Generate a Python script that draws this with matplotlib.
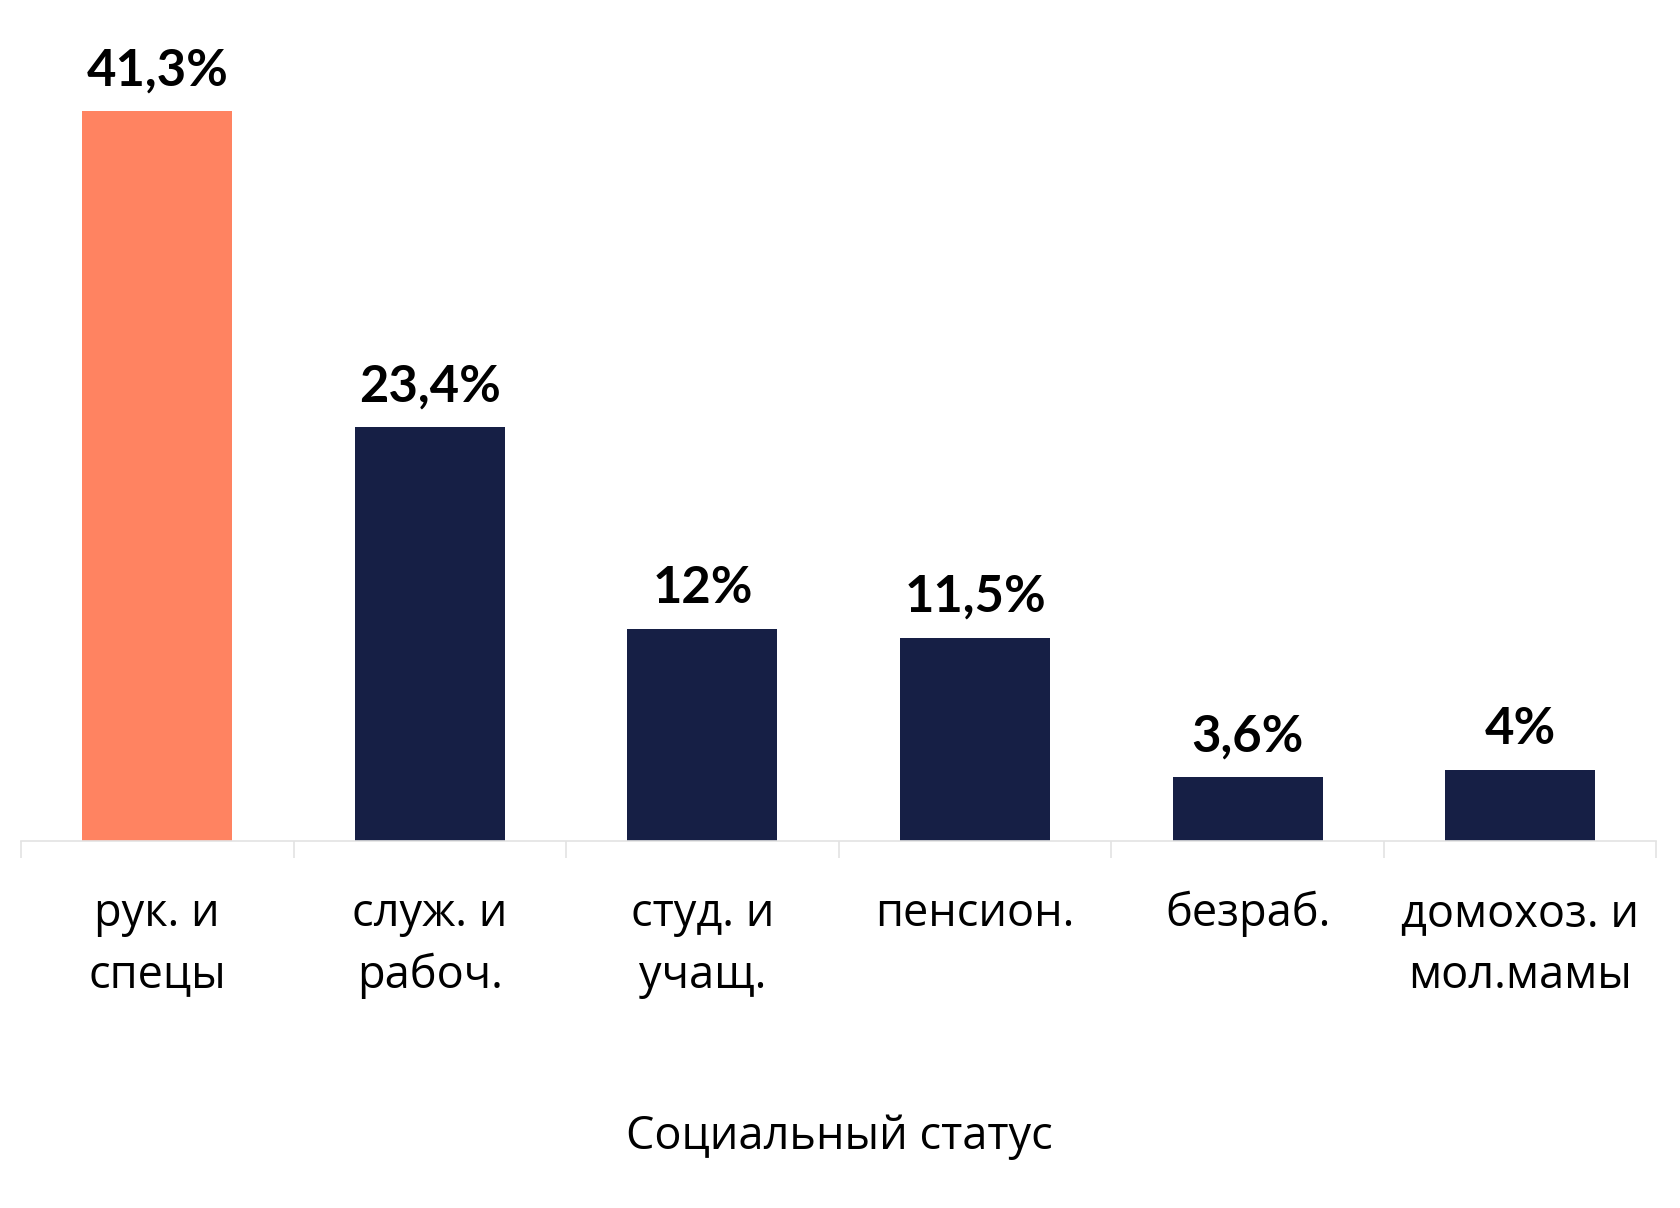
import matplotlib.pyplot as plt
import numpy as np

# Социальный статус респондентов, %
categories = ['рук. и\nспецы', 'служ. и\nрабоч.', 'студ. и\nучащ.', 'пенсион.',
              'безраб.', 'домохоз. и\nмол.мамы']
values = [41.3, 23.4, 12, 11.5, 3.6, 4]
labels = ['41,3%', '23,4%', '12%', '11,5%', '3,6%', '4%']

orange = '#FF8361'
navy = '#161F45'
colors = [orange] + [navy] * 5

fig = plt.figure(figsize=(16.8, 12.08), dpi=100)
ax = fig.add_axes([0.0125, 0.304, 0.9735, 0.696])

x = np.arange(len(categories))
ax.bar(x, values, width=0.55, color=colors)

for xi, v, t in zip(x, values, labels):
    ax.annotate(t, (xi, v), xytext=(0, 12), textcoords='offset points',
                ha='center', va='bottom', fontsize=36.5, fontweight='bold',
                family='Lato', color='black')

ax.set_xlim(-0.5, len(categories) - 0.5)
ax.set_ylim(0, 47.6)
ax.set_yticks([])
for s in ['top', 'right', 'left']:
    ax.spines[s].set_visible(False)
ax.spines['bottom'].set_color('#E3E3E3')
ax.spines['bottom'].set_linewidth(1.2)

ax.set_xticks(x)
ax.set_xticklabels(categories, fontsize=32.5, family='Open Sans', linespacing=1.45)
ax.tick_params(axis='x', which='major', length=0, pad=36)
ax.set_xticks(np.arange(len(categories) + 1) - 0.5, minor=True)
ax.tick_params(axis='x', which='minor', length=12, color='#E3E3E3', width=1.2)

fig.text(0.4995, 0.0585, 'Социальный статус', ha='center', va='center',
         fontsize=32.5, family='Open Sans')

plt.savefig('out.png', dpi=100)
